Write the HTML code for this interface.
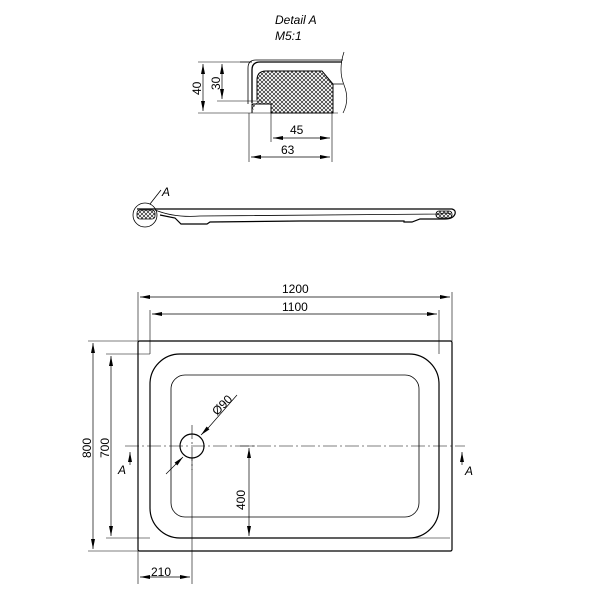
<!DOCTYPE html>
<html><head><style>body{margin:0;background:#fff}svg{display:block}text{font-family:"Liberation Sans",sans-serif;font-size:12px;fill:#000}</style></head><body>
<svg width="600" height="600" viewBox="0 0 600 600" xmlns="http://www.w3.org/2000/svg">
<defs>
<marker id="a" viewBox="0 0 10 4" refX="10" refY="2" markerWidth="10" markerHeight="4" orient="auto-start-reverse" markerUnits="userSpaceOnUse"><path d="M0,0L10,2L0,4z"/></marker>
<pattern id="h" width="4" height="4" patternUnits="userSpaceOnUse"><path d="M0,0L4,4M4,0L0,4" stroke="#000" stroke-width="0.6"/></pattern>
</defs>
<g fill="none" stroke="#000">
<path d="M252,113V104H271V113H333V84L322,71H266Q257,71 257,80V100" fill="url(#h)" stroke-width="1"/>
<path d="M252,103V70Q252,62 260,62H342" stroke-width="1.3"/>
<path d="M248,104V68Q248,60 256,60H343" stroke-width="0.8"/>
<path d="M333,84H343M344,52Q338,70 344,85Q350,100 343,113M240,62H252" stroke-width="0.7"/>
<path d="M198,62H250M217,101H262M198,113H338M249,113V162M271,113V142M332,113V162" stroke-width="0.6"/>
<line x1="203" y1="64" x2="203" y2="111" marker-start="url(#a)" marker-end="url(#a)" stroke-width="0.7"/>
<line x1="222" y1="64" x2="222" y2="99" marker-start="url(#a)" marker-end="url(#a)" stroke-width="0.7"/>
<line x1="273" y1="138" x2="330" y2="138" marker-start="url(#a)" marker-end="url(#a)" stroke-width="0.7"/>
<line x1="251" y1="157" x2="330" y2="157" marker-start="url(#a)" marker-end="url(#a)" stroke-width="0.7"/>
<path d="M137,209H452Q456,210 455,214Q453,219 445,219H420L412,222H404V221H300L210,222L207,224H181L175,218L160,215" stroke-width="1.2"/>
<path d="M155,210Q175,218 200,216L440,214Q446,212 450,214" stroke-width="0.8"/>
<rect x="137" y="210" width="18" height="9" rx="3" fill="url(#h)" stroke-width="0.8"/>
<rect x="436" y="211" width="16" height="7" rx="3" fill="url(#h)" stroke-width="0.8"/>
<circle cx="145" cy="215" r="12" stroke-width="0.8"/>
<path d="M150,204L161,190" stroke-width="0.8"/>
<rect x="138" y="341" width="314" height="210" rx="1.5" stroke-width="1.2"/>
<rect x="150" y="354" width="289" height="184" rx="30" stroke-width="1.2"/>
<rect x="171" y="375" width="248" height="142" rx="14" stroke-width="0.8"/>
<circle cx="192" cy="446" r="12" stroke-width="1.2"/>
<path d="M125,446H465M192,425V470" stroke-width="0.6" stroke-dasharray="14,3,2,3"/>
<path d="M138,292V341M452,292V341M150,310V354M439,310V354M88,341H138M88,551H138M106,354H150M106,538H150M192,458V584M138,551V584M240,446H255M240,538H450" stroke-width="0.6"/>
<line x1="140" y1="297" x2="450" y2="297" marker-start="url(#a)" marker-end="url(#a)" stroke-width="0.7"/>
<line x1="152" y1="314" x2="437" y2="314" marker-start="url(#a)" marker-end="url(#a)" stroke-width="0.7"/>
<line x1="93" y1="343" x2="93" y2="549" marker-start="url(#a)" marker-end="url(#a)" stroke-width="0.7"/>
<line x1="111" y1="356" x2="111" y2="536" marker-start="url(#a)" marker-end="url(#a)" stroke-width="0.7"/>
<line x1="249" y1="448" x2="249" y2="536" marker-start="url(#a)" marker-end="url(#a)" stroke-width="0.7"/>
<line x1="140" y1="577" x2="190" y2="577" marker-start="url(#a)" marker-end="url(#a)" stroke-width="0.7"/>
<line x1="175" y1="465" x2="183" y2="457" marker-end="url(#a)" stroke-width="0.7"/>
<line x1="209" y1="427" x2="201" y2="435" marker-end="url(#a)" stroke-width="0.7"/>
<path d="M175,465L166,474M209,427L237,395" stroke-width="0.7"/>
<line x1="130" y1="465" x2="130" y2="452" marker-end="url(#a)" stroke-width="0.7"/>
<line x1="462" y1="465" x2="462" y2="452" marker-end="url(#a)" stroke-width="0.7"/>
</g>
<text x="275" y="24" font-style="italic" font-size="13">Detail  A</text>
<text x="275" y="40" font-style="italic" font-size="13">M5:1</text>
<text transform="translate(201,95) rotate(-90)">40</text>
<text transform="translate(220,90) rotate(-90)">30</text>
<text x="290" y="134">45</text>
<text x="281" y="154">63</text>
<text x="162" y="196" font-style="italic">A</text>
<text x="282" y="293">1200</text>
<text x="282" y="311">1100</text>
<text transform="translate(91,458) rotate(-90)">800</text>
<text transform="translate(109,458) rotate(-90)">700</text>
<text transform="translate(245,510) rotate(-90)">400</text>
<text transform="translate(217,416) rotate(-45)">Ø90</text>
<text x="151" y="576">210</text>
<text x="118" y="474" font-style="italic">A</text>
<text x="465" y="475" font-style="italic">A</text>
</svg>
</body></html>
